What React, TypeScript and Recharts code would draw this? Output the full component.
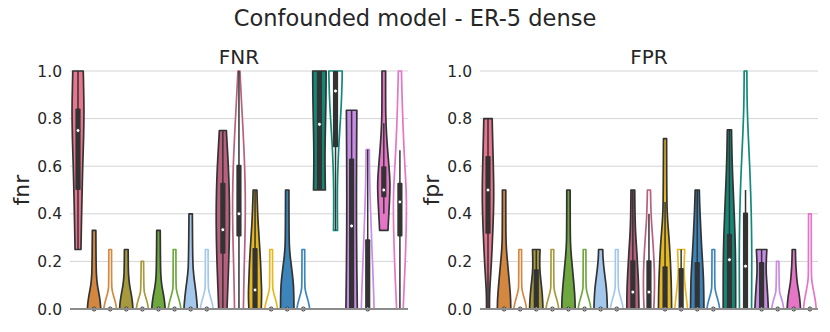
import React from 'react'
import { BarChart, Bar, XAxis, YAxis, CartesianGrid, ReferenceLine } from 'recharts'

const FONT = '"DejaVu Sans", Verdana, sans-serif'
const INK = '#262626'
const EDGE = '#333333'

const methods = [
  'm01', 'm02', 'm03', 'm04', 'm05', 'm06', 'm07', 'm08', 'm09', 'm10', 'm11',
  'm12', 'm13', 'm14', 'm15', 'm16', 'm17', 'm18', 'm19', 'm20', 'm21',
]

const violinColors = [
  '#e8768e', '#d4883f', '#d4883f', '#a69a3c', '#a69a3c', '#6ea83e', '#6ea83e',
  '#a4c8ec', '#a4c8ec', '#b8607e', '#b8607e', '#e6b820', '#e6b820', '#3b85bb',
  '#3b85bb', '#128a7a', '#128a7a', '#c88be6', '#c88be6', '#e675c8', '#e675c8',
]
// filled violins have a dark edge, the others are white with a coloured edge
const violinFilled = [
  true, true, false, true, false, true, false, true, false, true, false,
  true, false, true, false, true, false, true, false, true, false,
]

// ---- FNR ----
const fnrMin = [0.25, 0, 0, 0, 0, 0, 0, 0, 0, 0, 0, 0, 0, 0, 0, 0.5, 0.33, 0, 0, 0.33, 0]
const fnrMax = [1, 0.33, 0.25, 0.25, 0.2, 0.33, 0.25, 0.4, 0.25, 0.75, 1, 0.5, 0.25, 0.5, 0.25, 1, 1, 0.835, 0.67, 1, 1]
const fnrQ1 = [0.5, 0, 0, 0, 0, 0, 0, 0, 0, 0.232, 0.305, 0, 0, 0, 0, 0.5, 0.68, 0, 0, 0.47, 0.305]
const fnrQ3 = [0.842, 0, 0, 0, 0, 0, 0, 0, 0, 0.53, 0.606, 0.256, 0, 0, 0, 1, 1, 0.632, 0.293, 0.6, 0.53]
const fnrMedian = [0.75, 0, 0, 0, 0, 0, 0, 0, 0, 0.333, 0.4, 0.08, 0, 0, 0, 0.776, 0.916, 0.349, 0, 0.5, 0.45]
const fnrWhiskLo = [0.25, 0, 0, 0, 0, 0, 0, 0, 0, 0, 0, 0, 0, 0, 0, 0.5, 0.33, 0, 0, 0.4, 0]
const fnrWhiskHi = [1, 0, 0, 0, 0, 0, 0, 0, 0, 0.75, 1, 0.5, 0, 0, 0, 1, 1, 0.835, 0.67, 0.78, 0.667]
// density outline: [value, relative width], bottom to top
const fnrProfiles: number[][][] = [
  [[0.25, 0.44], [0.35, 0.5], [0.45, 0.58], [0.6, 0.7], [0.72, 0.84], [0.83, 0.9], [0.93, 0.84], [1, 0.78]],
  [[0, 1], [0.03, 0.92], [0.06, 0.75], [0.09, 0.55], [0.12, 0.4], [0.17, 0.3], [0.33, 0.26]],
  [[0, 0.95], [0.02, 0.85], [0.04, 0.65], [0.06, 0.45], [0.08, 0.28], [0.1, 0.21], [0.25, 0.2]],
  [[0, 1], [0.03, 0.92], [0.06, 0.75], [0.09, 0.55], [0.12, 0.4], [0.16, 0.3], [0.25, 0.28]],
  [[0, 0.9], [0.02, 0.8], [0.04, 0.6], [0.06, 0.38], [0.08, 0.22], [0.2, 0.18]],
  [[0, 1], [0.03, 0.92], [0.06, 0.75], [0.09, 0.55], [0.12, 0.4], [0.17, 0.3], [0.33, 0.26]],
  [[0, 0.95], [0.02, 0.85], [0.04, 0.65], [0.06, 0.45], [0.08, 0.28], [0.1, 0.21], [0.25, 0.2]],
  [[0, 1], [0.03, 0.93], [0.06, 0.82], [0.09, 0.7], [0.14, 0.45], [0.2, 0.3], [0.4, 0.25]],
  [[0, 0.95], [0.02, 0.85], [0.04, 0.65], [0.06, 0.45], [0.08, 0.28], [0.1, 0.21], [0.25, 0.2]],
  [[0, 0.62], [0.1, 0.75], [0.2, 0.88], [0.3, 0.97], [0.4, 1], [0.5, 0.95], [0.6, 0.82], [0.7, 0.62], [0.75, 0.52]],
  [[0, 0.66], [0.1, 0.72], [0.2, 0.8], [0.3, 0.9], [0.45, 0.97], [0.6, 0.85], [0.7, 0.7], [0.8, 0.52], [0.9, 0.32], [1, 0.15]],
  [[0, 0.92], [0.06, 1], [0.12, 0.92], [0.2, 0.82], [0.3, 0.6], [0.4, 0.38], [0.5, 0.28]],
  [[0, 0.95], [0.02, 0.85], [0.04, 0.65], [0.06, 0.45], [0.08, 0.28], [0.1, 0.21], [0.25, 0.2]],
  [[0, 1], [0.07, 0.98], [0.12, 0.88], [0.18, 0.62], [0.24, 0.36], [0.3, 0.27], [0.5, 0.25]],
  [[0, 0.95], [0.02, 0.85], [0.04, 0.65], [0.06, 0.45], [0.08, 0.28], [0.1, 0.21], [0.25, 0.2]],
  [[0.5, 0.88], [0.6, 0.82], [0.7, 0.84], [0.8, 0.92], [0.9, 0.98], [1, 1]],
  [[0.33, 0.3], [0.45, 0.26], [0.55, 0.3], [0.65, 0.42], [0.75, 0.62], [0.85, 0.85], [0.95, 0.97], [1, 1]],
  [[0, 0.85], [0.1, 0.8], [0.25, 0.74], [0.4, 0.72], [0.55, 0.72], [0.7, 0.75], [0.835, 0.78]],
  [[0, 0.95], [0.06, 0.9], [0.2, 0.7], [0.34, 0.52], [0.48, 0.34], [0.6, 0.26], [0.67, 0.24]],
  [[0.33, 0.62], [0.4, 0.75], [0.5, 0.93], [0.56, 0.88], [0.62, 0.7], [0.7, 0.48], [0.77, 0.33], [0.85, 0.27], [1, 0.27]],
  [[0, 0.49], [0.13, 0.7], [0.27, 0.88], [0.4, 0.98], [0.5, 0.95], [0.61, 0.72], [0.76, 0.47], [0.9, 0.31], [1, 0.23]],
]

// ---- FPR ----
const fprMin = [0, 0, 0, 0, 0, 0, 0, 0, 0, 0, 0, 0, 0, 0, 0, 0, 0, 0, 0, 0, 0]
const fprMax = [0.8, 0.5, 0.25, 0.25, 0.25, 0.5, 0.25, 0.25, 0.25, 0.5, 0.5, 0.716, 0.25, 0.5, 0.25, 0.753, 1, 0.25, 0.2, 0.25, 0.4]
const fprQ1 = [0.316, 0, 0, 0, 0, 0, 0, 0, 0, 0, 0, 0, 0, 0, 0, 0, 0, 0, 0, 0, 0]
const fprQ3 = [0.643, 0, 0, 0.167, 0, 0, 0, 0, 0, 0.205, 0.205, 0.18, 0.172, 0.197, 0, 0.316, 0.405, 0.197, 0, 0, 0]
const fprMedian = [0.5, 0, 0, 0, 0, 0, 0, 0, 0, 0.071, 0.071, 0, 0, 0, 0, 0.207, 0.18, 0, 0, 0, 0]
const fprWhiskLo = [0, 0, 0, 0, 0, 0, 0, 0, 0, 0, 0, 0, 0, 0, 0, 0, 0, 0, 0, 0, 0]
const fprWhiskHi = [0.8, 0, 0, 0.25, 0, 0, 0, 0, 0, 0.5, 0.4, 0.45, 0.25, 0.5, 0, 0.753, 0.5, 0.25, 0, 0, 0]
const fprProfiles: number[][][] = [
  [[0, 0.22], [0.05, 0.22], [0.1, 0.3], [0.2, 0.52], [0.34, 0.74], [0.47, 0.88], [0.62, 0.78], [0.72, 0.68], [0.8, 0.62]],
  [[0, 1], [0.04, 0.98], [0.09, 0.85], [0.17, 0.6], [0.25, 0.33], [0.32, 0.26], [0.5, 0.25]],
  [[0, 0.95], [0.02, 0.85], [0.04, 0.65], [0.06, 0.45], [0.08, 0.28], [0.1, 0.21], [0.25, 0.2]],
  [[0, 1], [0.04, 0.95], [0.09, 0.8], [0.15, 0.55], [0.2, 0.5], [0.25, 0.56]],
  [[0, 0.95], [0.02, 0.85], [0.04, 0.65], [0.06, 0.45], [0.08, 0.28], [0.1, 0.21], [0.25, 0.2]],
  [[0, 1], [0.04, 0.98], [0.09, 0.85], [0.17, 0.6], [0.25, 0.33], [0.32, 0.26], [0.5, 0.25]],
  [[0, 0.95], [0.02, 0.85], [0.04, 0.65], [0.06, 0.45], [0.08, 0.28], [0.1, 0.21], [0.25, 0.2]],
  [[0, 1], [0.04, 0.96], [0.09, 0.85], [0.14, 0.62], [0.18, 0.45], [0.22, 0.33], [0.25, 0.31]],
  [[0, 0.95], [0.02, 0.85], [0.04, 0.65], [0.06, 0.45], [0.08, 0.28], [0.1, 0.21], [0.25, 0.2]],
  [[0, 0.9], [0.09, 0.88], [0.2, 0.67], [0.27, 0.52], [0.33, 0.38], [0.42, 0.3], [0.5, 0.28]],
  [[0, 0.72], [0.06, 0.82], [0.15, 0.83], [0.25, 0.67], [0.33, 0.47], [0.4, 0.3], [0.5, 0.23]],
  [[0, 0.98], [0.09, 0.95], [0.2, 0.8], [0.29, 0.62], [0.37, 0.38], [0.45, 0.26], [0.716, 0.23]],
  [[0, 0.95], [0.03, 0.85], [0.09, 0.6], [0.15, 0.42], [0.2, 0.45], [0.25, 0.54]],
  [[0, 1], [0.08, 0.97], [0.15, 0.9], [0.26, 0.65], [0.37, 0.47], [0.45, 0.35], [0.5, 0.31]],
  [[0, 0.95], [0.02, 0.85], [0.04, 0.65], [0.06, 0.45], [0.08, 0.28], [0.1, 0.21], [0.25, 0.2]],
  [[0, 0.93], [0.18, 0.93], [0.32, 0.83], [0.46, 0.62], [0.6, 0.42], [0.7, 0.34], [0.753, 0.31]],
  [[0, 0.9], [0.13, 0.93], [0.27, 0.93], [0.41, 0.85], [0.55, 0.7], [0.69, 0.47], [0.8, 0.3], [0.9, 0.22], [1, 0.2]],
  [[0, 1], [0.05, 0.92], [0.1, 0.8], [0.16, 0.66], [0.21, 0.7], [0.25, 0.78]],
  [[0, 0.9], [0.02, 0.8], [0.04, 0.6], [0.06, 0.38], [0.08, 0.22], [0.2, 0.18]],
  [[0, 1], [0.04, 0.9], [0.07, 0.75], [0.11, 0.5], [0.15, 0.38], [0.2, 0.27], [0.25, 0.24]],
  [[0, 0.95], [0.03, 0.85], [0.06, 0.65], [0.09, 0.45], [0.12, 0.28], [0.15, 0.21], [0.4, 0.2]],
]

const yTicks = [0, 0.2, 0.4, 0.6, 0.8, 1]

interface ViolinRow {
  name: string
  lo: number
  hi: number
  q1: number
  q3: number
  median: number
  whiskLo: number
  whiskHi: number
  profile: number[][]
  color: string
  filled: boolean
}

function buildRows(
  lo: number[], hi: number[], q1: number[], q3: number[], med: number[],
  wLo: number[], wHi: number[], profiles: number[][][],
): ViolinRow[] {
  return methods.map((name, i) => ({
    name,
    lo: lo[i],
    hi: hi[i],
    q1: q1[i],
    q3: q3[i],
    median: med[i],
    whiskLo: wLo[i],
    whiskHi: wHi[i],
    profile: profiles[i],
    color: violinColors[i],
    filled: violinFilled[i],
  }))
}

const fnrRows = buildRows(fnrMin, fnrMax, fnrQ1, fnrQ3, fnrMedian, fnrWhiskLo, fnrWhiskHi, fnrProfiles)
const fprRows = buildRows(fprMin, fprMax, fprQ1, fprQ3, fprMedian, fprWhiskLo, fprWhiskHi, fprProfiles)

// quadratic smoothing through midpoints
function smooth(pts: number[][], first: boolean): string {
  let d = first ? `M${pts[0][0]},${pts[0][1]}` : `L${pts[0][0]},${pts[0][1]}`
  for (let i = 1; i < pts.length - 1; i++) {
    const mx = (pts[i][0] + pts[i + 1][0]) / 2
    const my = (pts[i][1] + pts[i + 1][1]) / 2
    d += ` Q${pts[i][0]},${pts[i][1]} ${mx},${my}`
  }
  const last = pts[pts.length - 1]
  d += ` L${last[0]},${last[1]}`
  return d
}

function ViolinShape(props: any) {
  const { x, y, width, height, payload } = props
  if (!payload || width == null) return null
  const row = payload as ViolinRow
  const top = Math.min(y, y + height)
  const bottom = Math.max(y, y + height)
  const span = row.hi - row.lo
  const toPx = (v: number) => (span === 0 ? bottom : bottom - ((v - row.lo) / span) * (bottom - top))
  const cx = x + width / 2
  const half = (width * 0.84) / 2

  const right = row.profile.map(([v, f]) => [cx + f * half, toPx(v)])
  const left = row.profile.map(([v, f]) => [cx - f * half, toPx(v)]).reverse()
  const d = `${smooth(right, true)} ${smooth(left, false)} Z`

  return (
    <g>
      <path
        d={d}
        fill={row.filled ? row.color : '#ffffff'}
        stroke={row.filled ? EDGE : row.color}
        strokeWidth={1.7}
        strokeLinejoin="round"
      />
      {row.whiskHi > row.whiskLo && (
        <line x1={cx} x2={cx} y1={toPx(row.whiskLo)} y2={toPx(row.whiskHi)} stroke={EDGE} strokeWidth={1.5} />
      )}
      {row.q3 > row.q1 && (
        <rect x={cx - 2.6} width={5.2} y={toPx(row.q3)} height={toPx(row.q1) - toPx(row.q3)} fill={EDGE} rx={1} />
      )}
      <circle cx={cx} cy={toPx(row.median)} r={2} fill="#ffffff" stroke={EDGE} strokeWidth={1} />
    </g>
  )
}

function ViolinPanel({ rows, width, right }: { rows: ViolinRow[]; width: number; right: number }) {
  return (
    <BarChart
      width={width}
      height={332}
      data={rows}
      margin={{ top: 71, right, bottom: 23, left: 0 }}
      barCategoryGap={0}
    >
      <CartesianGrid vertical={false} stroke="#d4d4d4" strokeWidth={1} />
      <XAxis dataKey="name" type="category" hide />
      <YAxis
        type="number"
        domain={[0, 1]}
        ticks={yTicks}
        interval={0}
        width={70}
        axisLine={false}
        tickLine={false}
        tickFormatter={(v: number) => v.toFixed(1)}
        tick={{ fontSize: 15.5, fill: INK, fontFamily: FONT }}
      />
      <Bar
        dataKey={(r: ViolinRow) => [r.lo, r.hi]}
        shape={ViolinShape}
        isAnimationActive={false}
      />
      <ReferenceLine y={0} stroke="#8c8c8c" strokeWidth={1.8} />
    </BarChart>
  )
}

export default function App() {
  return (
    <div
      style={{
        position: 'absolute',
        left: 0,
        top: 0,
        width: 830,
        height: 332,
        background: '#ffffff',
        fontFamily: FONT,
        overflow: 'hidden',
      }}
    >
      <div style={{ position: 'absolute', left: 0, top: 0 }}>
        <ViolinPanel rows={fnrRows} width={415} right={7} />
      </div>
      <div style={{ position: 'absolute', left: 410, top: 0 }}>
        <ViolinPanel rows={fprRows} width={420} right={12} />
      </div>
      <svg
        width={830}
        height={332}
        style={{ position: 'absolute', left: 0, top: 0, pointerEvents: 'none' }}
        fontFamily={FONT}
        fill={INK}
      >
        <text x={415} y={26} fontSize={22.5} textAnchor="middle">Confounded model - ER-5 dense</text>
        <text x={239} y={64} fontSize={20} textAnchor="middle">FNR</text>
        <text x={649} y={64} fontSize={20} textAnchor="middle">FPR</text>
        <text x={21} y={190} fontSize={22} textAnchor="middle" dominantBaseline="central" transform="rotate(-90 21 190)">fnr</text>
        <text x={431} y={190} fontSize={22} textAnchor="middle" dominantBaseline="central" transform="rotate(-90 431 190)">fpr</text>
      </svg>
    </div>
  )
}
